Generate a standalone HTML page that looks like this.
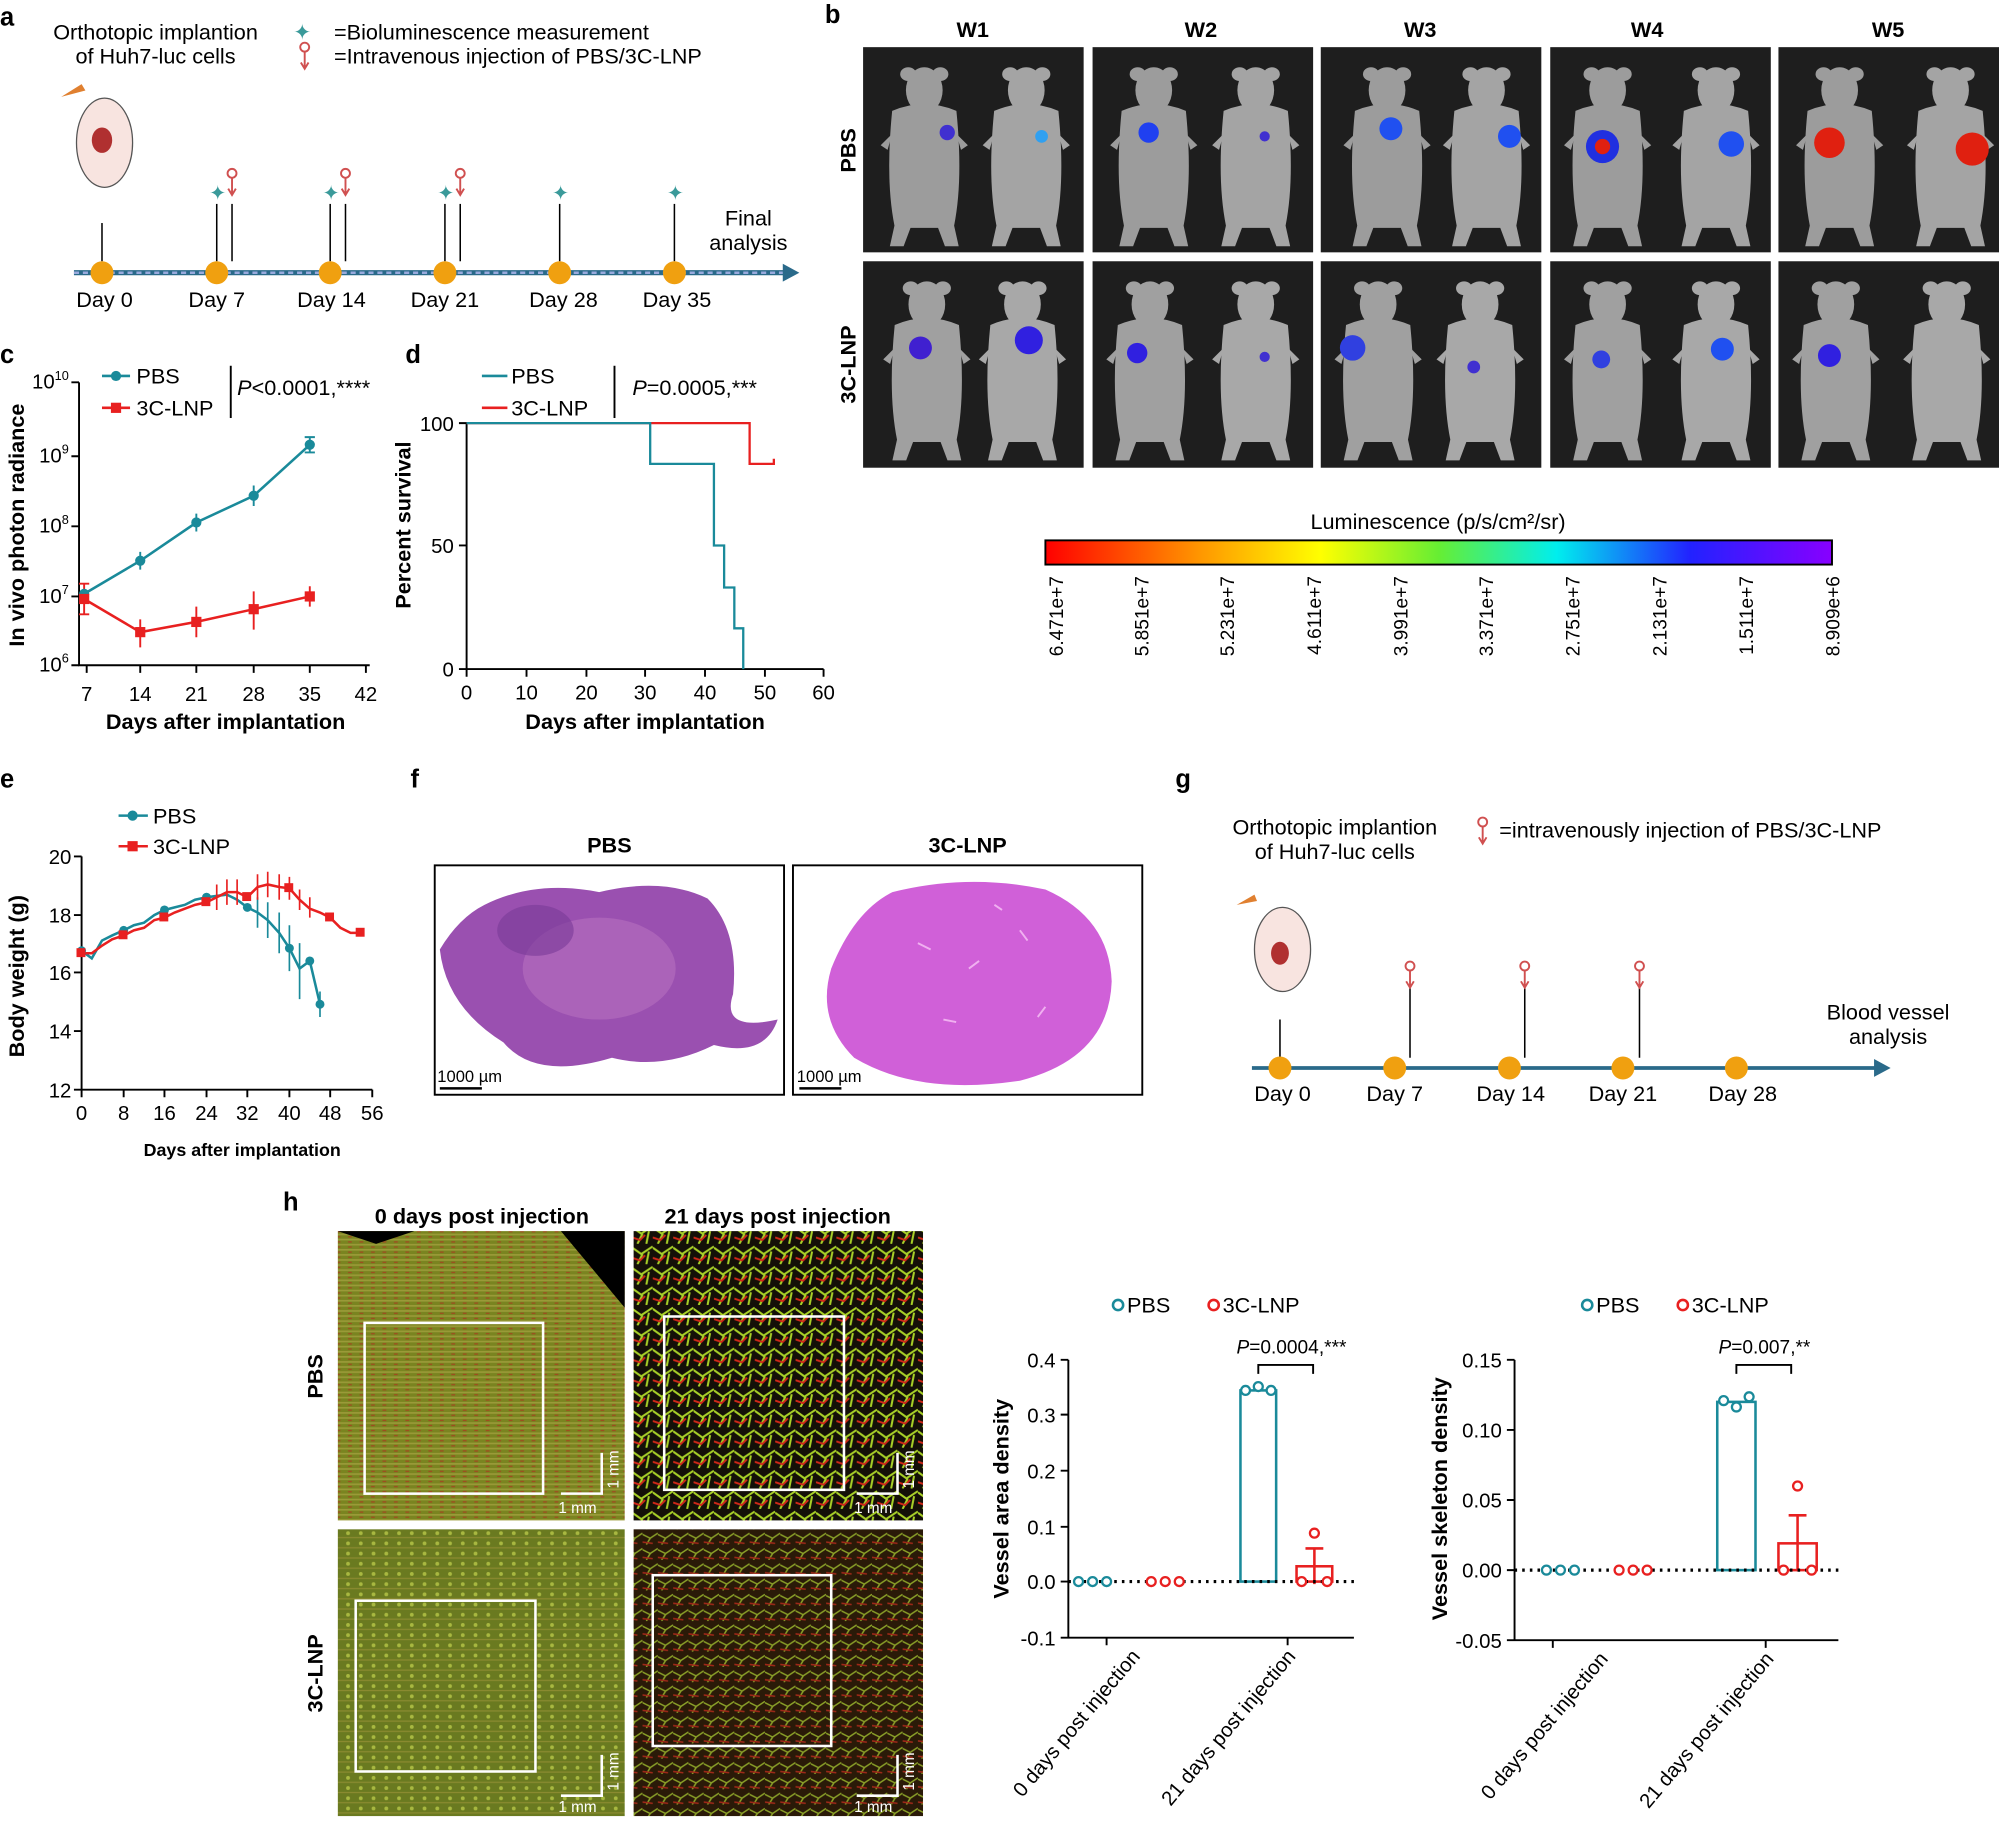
<!DOCTYPE html>
<html><head><meta charset="utf-8"><style>
html,body{margin:0;padding:0;background:#fff;}
svg{display:block;font-family:"Liberation Sans",Arial,sans-serif;}
</style></head><body>
<svg width="1999" height="1825" viewBox="0 0 1568 1432" preserveAspectRatio="none" xmlns="http://www.w3.org/2000/svg">
<defs>
<linearGradient id="lum" x1="0" x2="1"><stop offset="0" stop-color="#f00"/><stop offset="0.2" stop-color="#f90"/><stop offset="0.35" stop-color="#ff0"/><stop offset="0.5" stop-color="#6e3"/><stop offset="0.65" stop-color="#0ee"/><stop offset="0.82" stop-color="#22f"/><stop offset="1" stop-color="#80f"/></linearGradient>
<pattern id="stripes" width="9" height="4" patternUnits="userSpaceOnUse"><rect width="9" height="4" fill="#7a8420"/><rect y="0" width="9" height="1.3" fill="#9a9a38"/><rect x="3" y="2" width="3" height="1" fill="#a04a20"/></pattern>
<pattern id="vess" width="16" height="16" patternUnits="userSpaceOnUse"><rect width="16" height="16" fill="#141008"/><path d="M0 3 L7 8 L16 2 M4 16 L8 8 M11 16 L13 6" stroke="#a8d028" stroke-width="1.6" fill="none"/><path d="M0 11 L6 13 L10 9" stroke="#d02818" stroke-width="1.5" fill="none"/></pattern>
<pattern id="vess2" width="12" height="12" patternUnits="userSpaceOnUse"><rect width="12" height="12" fill="#2a1a08"/><path d="M0 4 L6 7 L12 3 M3 12 L6 7" stroke="#8aa028" stroke-width="1.2" fill="none"/><path d="M0 10 L8 11" stroke="#a02818" stroke-width="1.2"/></pattern>
<pattern id="dots" width="10" height="8" patternUnits="userSpaceOnUse"><rect width="10" height="8" fill="#6a7a20"/><circle cx="3" cy="3" r="1.5" fill="#a8b840"/><rect y="6" width="10" height="1" fill="#8a8a30"/></pattern>
<g id="mouse" transform="scale(0.9)"><ellipse cx="0" cy="-58" rx="16" ry="20"/><ellipse cx="-14" cy="-72" rx="7" ry="6"/><ellipse cx="14" cy="-72" rx="7" ry="6"/><path d="M-28 -40 Q-34 20 -26 60 L-30 78 L-18 78 L-12 62 L12 62 L18 78 L30 78 L26 60 Q34 20 28 -40 Q0 -52 -28 -40z"/><path d="M-28 -20 l-10 10 l6 4 z M28 -20 l10 10 l-6 4z"/></g>
<g id="pin"><circle cx="0" cy="0" r="3.5" fill="none" stroke="#d05050" stroke-width="1.5"/><path d="M0 3.5 V16 M-3 12 L0 17 L3 12" stroke="#d05050" stroke-width="1.5" fill="none"/></g>
</defs>
<g font-weight="bold" font-size="20">
<text x="0" y="20">a</text><text x="647" y="18">b</text><text x="0" y="285">c</text><text x="318" y="285">d</text><text x="0" y="618">e</text><text x="322" y="618">f</text><text x="922" y="618">g</text><text x="222" y="950">h</text></g>

<!-- panel a -->
<g font-size="17">
<text x="122" y="31" text-anchor="middle">Orthotopic implantion</text><text x="122" y="50" text-anchor="middle">of Huh7-luc cells</text>
<text x="230" y="31" fill="#3a9a9a">✦</text><text x="262" y="31">=Bioluminescence measurement</text>
<text x="262" y="50">=Intravenous injection of PBS/3C-LNP</text>
<text x="587" y="177" text-anchor="middle">Final</text><text x="587" y="196" text-anchor="middle">analysis</text>
</g>
<use href="#pin" x="239" y="37"/>
<path d="M48 76 l16 -10 l3 5 z" fill="#e08030"/><ellipse cx="82" cy="112" rx="22" ry="35" fill="#f8e4e0" stroke="#555"/><ellipse cx="80" cy="110" rx="8" ry="10" fill="#b03030"/>
<line x1="58" y1="214" x2="620" y2="214" stroke="#2a6a8a" stroke-width="4"/><line x1="58" y1="214" x2="620" y2="214" stroke="#9ad" stroke-width="2" stroke-dasharray="4 3"/>
<path d="M614 207 L627 214 L614 221 z" fill="#2a6a8a"/>
<g stroke="#000" stroke-width="1.2">
<line x1="80" y1="175" x2="80" y2="205"/><line x1="170" y1="160" x2="170" y2="205"/><line x1="182" y1="160" x2="182" y2="205"/><line x1="259" y1="160" x2="259" y2="205"/><line x1="271" y1="160" x2="271" y2="205"/><line x1="349" y1="160" x2="349" y2="205"/><line x1="361" y1="160" x2="361" y2="205"/><line x1="439" y1="160" x2="439" y2="205"/><line x1="529" y1="160" x2="529" y2="205"/></g>
<g fill="#3a9a9a" font-size="16"><text x="164" y="157">✦</text><text x="253" y="157">✦</text><text x="343" y="157">✦</text><text x="433" y="157">✦</text><text x="523" y="157">✦</text></g>
<use href="#pin" x="182" y="136"/><use href="#pin" x="271" y="136"/><use href="#pin" x="361" y="136"/>
<g fill="#f0a010"><circle cx="80" cy="214" r="9"/><circle cx="170" cy="214" r="9"/><circle cx="259" cy="214" r="9"/><circle cx="349" cy="214" r="9"/><circle cx="439" cy="214" r="9"/><circle cx="529" cy="214" r="9"/></g>
<g font-size="17" text-anchor="middle"><text x="82" y="241">Day 0</text><text x="170" y="241">Day 7</text><text x="260" y="241">Day 14</text><text x="349" y="241">Day 21</text><text x="442" y="241">Day 28</text><text x="531" y="241">Day 35</text></g>

<!-- panel b -->
<g font-size="17" font-weight="bold" text-anchor="middle"><text x="763" y="29">W1</text><text x="942" y="29">W2</text><text x="1114" y="29">W3</text><text x="1292" y="29">W4</text><text x="1481" y="29">W5</text>
<text transform="translate(671,118) rotate(-90)">PBS</text><text transform="translate(671,286) rotate(-90)">3C-LNP</text></g>
<g>
<g transform="translate(677,37)"><rect width="173" height="161" fill="#1e1e1e"/><use href="#mouse" x="48" y="86" fill="#9c9c9c"/><use href="#mouse" x="128" y="86" fill="#a4a4a4"/><circle cx="66" cy="67" r="6" fill="#4030d0"/><circle cx="140" cy="70" r="5" fill="#30a0f0"/></g>
<g transform="translate(857,37)"><rect width="173" height="161" fill="#1e1e1e"/><use href="#mouse" x="48" y="86" fill="#9c9c9c"/><use href="#mouse" x="128" y="86" fill="#a4a4a4"/><circle cx="44" cy="67" r="8" fill="#2040f0"/><circle cx="135" cy="70" r="4" fill="#4030d0"/></g>
<g transform="translate(1036,37)"><rect width="173" height="161" fill="#1e1e1e"/><use href="#mouse" x="52" y="86" fill="#9c9c9c"/><use href="#mouse" x="130" y="86" fill="#a4a4a4"/><circle cx="55" cy="64" r="9" fill="#2050f0"/><circle cx="148" cy="70" r="9" fill="#2050f0"/></g>
<g transform="translate(1216,37)"><rect width="173" height="161" fill="#1e1e1e"/><use href="#mouse" x="45" y="86" fill="#9c9c9c"/><use href="#mouse" x="130" y="86" fill="#a4a4a4"/><circle cx="41" cy="78" r="13" fill="#2030e0"/><circle cx="41" cy="78" r="6" fill="#e02010"/><circle cx="142" cy="76" r="10" fill="#2050f0"/></g>
<g transform="translate(1395,37)"><rect width="173" height="161" fill="#1e1e1e"/><use href="#mouse" x="48" y="86" fill="#9c9c9c"/><use href="#mouse" x="135" y="86" fill="#a4a4a4"/><circle cx="40" cy="75" r="12" fill="#e02010"/><circle cx="152" cy="80" r="13" fill="#e02010"/></g>
<g transform="translate(677,205)"><rect width="173" height="162" fill="#1e1e1e"/><use href="#mouse" x="50" y="86" fill="#a0a0a0"/><use href="#mouse" x="125" y="86" fill="#a8a8a8"/><circle cx="45" cy="68" r="9" fill="#4020d0"/><circle cx="130" cy="62" r="11" fill="#3020e0"/></g>
<g transform="translate(857,205)"><rect width="173" height="162" fill="#1e1e1e"/><use href="#mouse" x="45" y="86" fill="#a0a0a0"/><use href="#mouse" x="128" y="86" fill="#a8a8a8"/><circle cx="35" cy="72" r="8" fill="#3020e0"/><circle cx="135" cy="75" r="4" fill="#4030d0"/></g>
<g transform="translate(1036,205)"><rect width="173" height="162" fill="#1e1e1e"/><use href="#mouse" x="45" y="86" fill="#a0a0a0"/><use href="#mouse" x="125" y="86" fill="#a8a8a8"/><circle cx="25" cy="68" r="10" fill="#3040e0"/><circle cx="120" cy="83" r="5" fill="#4030d0"/></g>
<g transform="translate(1216,205)"><rect width="173" height="162" fill="#1e1e1e"/><use href="#mouse" x="45" y="86" fill="#a0a0a0"/><use href="#mouse" x="130" y="86" fill="#a8a8a8"/><circle cx="40" cy="77" r="7" fill="#3040e0"/><circle cx="135" cy="69" r="9" fill="#2050f0"/></g>
<g transform="translate(1395,205)"><rect width="173" height="162" fill="#1e1e1e"/><use href="#mouse" x="45" y="86" fill="#a0a0a0"/><use href="#mouse" x="132" y="86" fill="#a8a8a8"/><circle cx="40" cy="74" r="9" fill="#3020e0"/></g>
</g>
<text x="1128" y="415" font-size="17" text-anchor="middle">Luminescence (p/s/cm²/sr)</text>
<rect x="820" y="424" width="617" height="19" fill="url(#lum)" stroke="#000" stroke-width="1.5"/>
<g font-size="15" text-anchor="end">
<text transform="translate(834,452) rotate(-90)">6.471e+7</text><text transform="translate(901,452) rotate(-90)">5.851e+7</text><text transform="translate(968,452) rotate(-90)">5.231e+7</text><text transform="translate(1036,452) rotate(-90)">4.611e+7</text><text transform="translate(1104,452) rotate(-90)">3.991e+7</text><text transform="translate(1171,452) rotate(-90)">3.371e+7</text><text transform="translate(1239,452) rotate(-90)">2.751e+7</text><text transform="translate(1307,452) rotate(-90)">2.131e+7</text><text transform="translate(1375,452) rotate(-90)">1.511e+7</text><text transform="translate(1443,452) rotate(-90)">8.909e+6</text></g>

<!-- panel c -->
<g stroke="#000" stroke-width="1.5" fill="none"><path d="M62 300 V522 H290"/>
<path d="M56 300h6M56 358h6M56 413h6M56 468h6M56 522h6M68 522v6M110 522v6M154 522v6M199 522v6M243 522v6M287 522v6"/></g>
<g font-size="16" text-anchor="end"><text x="54" y="305">10<tspan font-size="10" dy="-7">10</tspan></text><text x="54" y="363">10<tspan font-size="10" dy="-7">9</tspan></text><text x="54" y="418">10<tspan font-size="10" dy="-7">8</tspan></text><text x="54" y="473">10<tspan font-size="10" dy="-7">7</tspan></text><text x="54" y="527">10<tspan font-size="10" dy="-7">6</tspan></text></g>
<g font-size="16" text-anchor="middle"><text x="68" y="550">7</text><text x="110" y="550">14</text><text x="154" y="550">21</text><text x="199" y="550">28</text><text x="243" y="550">35</text><text x="287" y="550">42</text></g>
<text x="177" y="572" font-size="17" font-weight="bold" text-anchor="middle">Days after implantation</text>
<text transform="translate(19,412) rotate(-90)" font-size="17" font-weight="bold" text-anchor="middle">In vivo photon radiance</text>
<polyline points="66,466 110,440 154,410 199,389 243,349" fill="none" stroke="#1a8a9a" stroke-width="2"/>
<polyline points="66,470 110,496 154,488 199,478 243,468" fill="none" stroke="#e82020" stroke-width="2"/>
<g stroke="#1a8a9a" stroke-width="1.5"><path d="M110 433v14M154 403v14M199 381v16M243 343v12M239 343h8M239 355h8"/></g>
<g stroke="#e82020" stroke-width="1.5"><path d="M66 458v24M110 486v22M154 476v24M199 464v30M243 460v16M62 482h8M62 458h8"/></g>
<g fill="#1a8a9a"><circle cx="66" cy="466" r="4"/><circle cx="110" cy="440" r="4"/><circle cx="154" cy="410" r="4"/><circle cx="199" cy="389" r="4"/><circle cx="243" cy="349" r="4"/></g>
<g fill="#e82020"><rect x="62" y="466" width="8" height="8"/><rect x="106" y="492" width="8" height="8"/><rect x="150" y="484" width="8" height="8"/><rect x="195" y="474" width="8" height="8"/><rect x="239" y="464" width="8" height="8"/></g>
<line x1="80" y1="295" x2="102" y2="295" stroke="#1a8a9a" stroke-width="2"/><circle cx="91" cy="295" r="4" fill="#1a8a9a"/>
<line x1="80" y1="320" x2="102" y2="320" stroke="#e82020" stroke-width="2"/><rect x="87" y="316" width="8" height="8" fill="#e82020"/>
<g font-size="17"><text x="107" y="301">PBS</text><text x="107" y="326">3C-LNP</text><text x="186" y="310"><tspan font-style="italic">P</tspan>&lt;0.0001,****</text></g>
<line x1="181" y1="287" x2="181" y2="328" stroke="#000" stroke-width="1.5"/>

<!-- panel d -->
<g stroke="#000" stroke-width="1.5" fill="none"><path d="M360 332h6M360 428h6M360 525h6M366 332V525H646M366 525v6M413 525v6M460 525v6M506 525v6M553 525v6M600 525v6M646 525v6"/></g>
<g font-size="16" text-anchor="end"><text x="356" y="338">100</text><text x="356" y="434">50</text><text x="356" y="531">0</text></g>
<g font-size="16" text-anchor="middle"><text x="366" y="549">0</text><text x="413" y="549">10</text><text x="460" y="549">20</text><text x="506" y="549">30</text><text x="553" y="549">40</text><text x="600" y="549">50</text><text x="646" y="549">60</text></g>
<text x="506" y="572" font-size="17" font-weight="bold" text-anchor="middle">Days after implantation</text>
<text transform="translate(322,412) rotate(-90)" font-size="17" font-weight="bold" text-anchor="middle">Percent survival</text>
<polyline points="366,332 588,332 588,364 607,364 607,360" fill="none" stroke="#e82020" stroke-width="1.8"/>
<polyline points="366,332 510,332 510,364 560,364 560,428 568,428 568,461 576,461 576,493 583,493 583,525" fill="none" stroke="#1a8a9a" stroke-width="1.8"/>
<line x1="378" y1="295" x2="398" y2="295" stroke="#1a8a9a" stroke-width="2"/><line x1="378" y1="320" x2="398" y2="320" stroke="#e82020" stroke-width="2"/>
<g font-size="17"><text x="401" y="301">PBS</text><text x="401" y="326">3C-LNP</text><text x="496" y="310"><tspan font-style="italic">P</tspan>=0.0005,***</text></g>
<line x1="482" y1="287" x2="482" y2="328" stroke="#000" stroke-width="1.5"/>

<!-- panel e -->
<g stroke="#000" stroke-width="1.5" fill="none"><path d="M58 672h6M58 718h6M58 763h6M58 809h6M58 855h6M64 672V855H292"/>
<path d="M64 855v6M97 855v6M129 855v6M162 855v6M194 855v6M227 855v6M259 855v6M292 855v6"/></g>
<g font-size="16" text-anchor="end"><text x="56" y="678">20</text><text x="56" y="724">18</text><text x="56" y="769">16</text><text x="56" y="815">14</text><text x="56" y="861">12</text></g>
<g font-size="16" text-anchor="middle"><text x="64" y="879">0</text><text x="97" y="879">8</text><text x="129" y="879">16</text><text x="162" y="879">24</text><text x="194" y="879">32</text><text x="227" y="879">40</text><text x="259" y="879">48</text><text x="292" y="879">56</text></g>
<text x="190" y="907" font-size="14" font-weight="bold" text-anchor="middle">Days after implantation</text>
<text transform="translate(19,766) rotate(-90)" font-size="17" font-weight="bold" text-anchor="middle">Body weight (g)</text>
<polyline points="64,746 72,752 80,738 88,734 97,730 105,726 113,724 121,718 129,714 137,712 145,710 153,706 162,704 170,703 178,702 186,706 194,712 202,716 210,722 219,732 227,744 235,760 243,754 251,788" fill="none" stroke="#1a8a9a" stroke-width="2"/>
<polyline points="64,748 72,748 80,742 88,737 97,734 105,730 113,728 121,722 129,720 137,716 145,713 153,710 162,708 170,704 178,700 186,700 194,704 202,696 210,694 219,696 227,697 235,706 243,713 251,716 259,720 267,728 275,732 283,732" fill="none" stroke="#e82020" stroke-width="2"/>
<g stroke="#1a8a9a" stroke-width="1.3"><path d="M202 704v24M210 708v28M219 716v32M227 726v36M235 740v44M251 778v20"/></g>
<g stroke="#e82020" stroke-width="1.3"><path d="M170 694v20M178 690v20M186 690v20M202 686v20M210 684v20M219 686v20M227 688v18M235 698v16M243 704v16"/></g>
<g fill="#1a8a9a"><circle cx="64" cy="746" r="3.5"/><circle cx="97" cy="730" r="3.5"/><circle cx="129" cy="714" r="3.5"/><circle cx="162" cy="704" r="3.5"/><circle cx="194" cy="712" r="3.5"/><circle cx="227" cy="744" r="3.5"/><circle cx="243" cy="754" r="3.5"/><circle cx="251" cy="788" r="3.5"/></g>
<g fill="#e82020"><rect x="60" y="744" width="7" height="7"/><rect x="93" y="730" width="7" height="7"/><rect x="125" y="716" width="7" height="7"/><rect x="158" y="704" width="7" height="7"/><rect x="190" y="700" width="7" height="7"/><rect x="223" y="693" width="7" height="7"/><rect x="255" y="716" width="7" height="7"/><rect x="279" y="728" width="7" height="7"/></g>
<line x1="93" y1="640" x2="116" y2="640" stroke="#1a8a9a" stroke-width="2"/><circle cx="104" cy="640" r="4" fill="#1a8a9a"/>
<line x1="93" y1="664" x2="116" y2="664" stroke="#e82020" stroke-width="2"/><rect x="100" y="660" width="8" height="8" fill="#e82020"/>
<g font-size="17"><text x="120" y="646">PBS</text><text x="120" y="670">3C-LNP</text></g>

<!-- panel f -->
<g font-size="17" font-weight="bold" text-anchor="middle"><text x="478" y="669">PBS</text><text x="759" y="669">3C-LNP</text></g>
<rect x="341" y="679" width="274" height="180" fill="#fff" stroke="#000" stroke-width="1.5"/>
<rect x="622" y="679" width="274" height="180" fill="#fff" stroke="#000" stroke-width="1.5"/>
<path d="M380 710 Q420 690 470 700 Q520 688 555 705 Q580 730 575 780 Q565 810 610 800 Q600 830 560 820 Q520 840 480 830 Q420 848 395 818 Q350 790 345 745 Q360 720 380 710z" fill="#9a50b0"/>
<ellipse cx="470" cy="760" rx="60" ry="40" fill="#b870c0" opacity="0.6"/><ellipse cx="420" cy="730" rx="30" ry="20" fill="#7a3a98" opacity="0.6"/>
<path d="M700 700 Q760 685 820 698 Q870 720 872 770 Q870 830 800 848 Q720 860 670 830 Q640 800 652 760 Q670 715 700 700z" fill="#d060d8"/>
<g stroke="#f0b0f0" stroke-width="1.5" fill="none"><path d="M720 740l10 5M760 760l8-6M800 730l6 8M740 800l10 2M820 790l-6 8M780 710l6 4"/></g>
<g font-size="13"><text x="343" y="849">1000 µm</text><text x="625" y="849">1000 µm</text></g>
<path d="M345 854h33M627 854h33" stroke="#000" stroke-width="2"/>

<!-- panel g -->
<g font-size="17"><text x="1047" y="655" text-anchor="middle">Orthotopic implantion</text><text x="1047" y="674" text-anchor="middle">of Huh7-luc cells</text>
<text x="1176" y="657">=intravenously injection of PBS/3C-LNP</text>
<text x="1481" y="800" text-anchor="middle">Blood vessel</text><text x="1481" y="819" text-anchor="middle">analysis</text></g>
<use href="#pin" x="1163" y="645"/>
<path d="M970 710 l14 -8 l2 5 z" fill="#e08030"/><ellipse cx="1006" cy="745" rx="22" ry="33" fill="#f8e4e0" stroke="#555"/><ellipse cx="1004" cy="748" rx="7" ry="9" fill="#b03030"/>
<line x1="982" y1="838" x2="1474" y2="838" stroke="#2a6a8a" stroke-width="3"/><path d="M1470 831 L1483 838 L1470 845 z" fill="#2a6a8a"/>
<g stroke="#000" stroke-width="1.2"><path d="M1004 800v30M1106 775v55M1196 775v55M1286 775v55"/></g>
<use href="#pin" x="1106" y="758"/><use href="#pin" x="1196" y="758"/><use href="#pin" x="1286" y="758"/>
<g fill="#f0a010"><circle cx="1004" cy="838" r="9"/><circle cx="1094" cy="838" r="9"/><circle cx="1184" cy="838" r="9"/><circle cx="1273" cy="838" r="9"/><circle cx="1362" cy="838" r="9"/></g>
<g font-size="17" text-anchor="middle"><text x="1006" y="864">Day 0</text><text x="1094" y="864">Day 7</text><text x="1185" y="864">Day 14</text><text x="1273" y="864">Day 21</text><text x="1367" y="864">Day 28</text></g>

<!-- panel h images -->
<g font-size="17" font-weight="bold" text-anchor="middle"><text x="378" y="960">0 days post injection</text><text x="610" y="960">21 days post injection</text>
<text transform="translate(253,1080) rotate(-90)">PBS</text><text transform="translate(253,1313) rotate(-90)">3C-LNP</text></g>
<rect x="265" y="966" width="225" height="227" fill="url(#stripes)"/>
<path d="M265 966 h60 l-30 10 z M440 966 h50 v60 z" fill="#000"/>
<rect x="497" y="966" width="227" height="227" fill="url(#vess)"/>
<rect x="265" y="1200" width="225" height="225" fill="url(#dots)"/>
<rect x="497" y="1200" width="227" height="225" fill="url(#vess2)"/>
<g fill="none" stroke="#fff" stroke-width="2"><rect x="286" y="1038" width="140" height="134"/><rect x="521" y="1033" width="141" height="136"/><rect x="279" y="1256" width="141" height="134"/><rect x="512" y="1236" width="140" height="134"/>
<path d="M440 1172h32v-32M672 1172h32v-32M440 1409h32v-32M672 1409h32v-32"/></g>
<g fill="#fff" font-size="12"><text x="438" y="1187">1 mm</text><text x="670" y="1187">1 mm</text><text x="438" y="1422">1 mm</text><text x="670" y="1422">1 mm</text>
<text transform="translate(485,1168) rotate(-90)">1 mm</text><text transform="translate(717,1168) rotate(-90)">1 mm</text><text transform="translate(485,1405) rotate(-90)">1 mm</text><text transform="translate(717,1405) rotate(-90)">1 mm</text></g>

<!-- bar chart 1 -->
<g font-size="17"><circle cx="877" cy="1024" r="4" fill="none" stroke="#1a8a9a" stroke-width="2"/><text x="884" y="1030">PBS</text><circle cx="952" cy="1024" r="4" fill="none" stroke="#e82020" stroke-width="2"/><text x="959" y="1030">3C-LNP</text></g>
<g stroke="#000" stroke-width="1.5" fill="none"><path d="M832 1067h6M832 1110h6M832 1154h6M832 1198h6M832 1241h6M832 1285h6M838 1067V1285H1062M868 1285v6M1010 1285v6"/></g>
<g font-size="16" text-anchor="end"><text x="828" y="1073">0.4</text><text x="828" y="1116">0.3</text><text x="828" y="1160">0.2</text><text x="828" y="1204">0.1</text><text x="828" y="1247">0.0</text><text x="828" y="1291">-0.1</text></g>
<text transform="translate(791,1176) rotate(-90)" font-size="17" font-weight="bold" text-anchor="middle">Vessel area density</text>
<rect x="973" y="1091" width="28" height="150" fill="none" stroke="#1a8a9a" stroke-width="2"/>
<rect x="1017" y="1229" width="28" height="12" fill="none" stroke="#e82020" stroke-width="2"/>
<path d="M1031 1215v28M1024 1215h14" stroke="#e82020" stroke-width="2"/>
<line x1="838" y1="1241" x2="1062" y2="1241" stroke="#000" stroke-width="2.5" stroke-dasharray="2 4"/>
<g fill="#fff" stroke-width="1.8"><g stroke="#1a8a9a"><circle cx="846" cy="1241" r="3.5"/><circle cx="857" cy="1241" r="3.5"/><circle cx="868" cy="1241" r="3.5"/><circle cx="977" cy="1091" r="3.5"/><circle cx="987" cy="1088" r="3.5"/><circle cx="997" cy="1091" r="3.5"/></g>
<g stroke="#e82020"><circle cx="903" cy="1241" r="3.5"/><circle cx="914" cy="1241" r="3.5"/><circle cx="925" cy="1241" r="3.5"/><circle cx="1021" cy="1241" r="3.5"/><circle cx="1031" cy="1203" r="3.5"/><circle cx="1041" cy="1241" r="3.5"/></g></g>
<path d="M987 1078v-7h43v7" fill="none" stroke="#000" stroke-width="1.5"/>
<text x="1013" y="1062" font-size="15" text-anchor="middle"><tspan font-style="italic">P</tspan>=0.0004,***</text>
<g font-size="16" text-anchor="end"><text transform="translate(895,1300) rotate(-50)">0 days post injection</text><text transform="translate(1017,1300) rotate(-50)">21 days post injection</text></g>

<!-- bar chart 2 -->
<g font-size="17"><circle cx="1245" cy="1024" r="4" fill="none" stroke="#1a8a9a" stroke-width="2"/><text x="1252" y="1030">PBS</text><circle cx="1320" cy="1024" r="4" fill="none" stroke="#e82020" stroke-width="2"/><text x="1327" y="1030">3C-LNP</text></g>
<g stroke="#000" stroke-width="1.5" fill="none"><path d="M1182 1067h6M1182 1122h6M1182 1177h6M1182 1232h6M1182 1287h6M1188 1067V1287H1442M1218 1287v6M1385 1287v6"/></g>
<g font-size="16" text-anchor="end"><text x="1178" y="1073">0.15</text><text x="1178" y="1128">0.10</text><text x="1178" y="1183">0.05</text><text x="1178" y="1238">0.00</text><text x="1178" y="1293">-0.05</text></g>
<text transform="translate(1135,1176) rotate(-90)" font-size="17" font-weight="bold" text-anchor="middle">Vessel skeleton density</text>
<rect x="1347" y="1100" width="30" height="132" fill="none" stroke="#1a8a9a" stroke-width="2"/>
<rect x="1395" y="1211" width="30" height="21" fill="none" stroke="#e82020" stroke-width="2"/>
<path d="M1410 1189v44M1403 1189h14" stroke="#e82020" stroke-width="2"/>
<line x1="1188" y1="1232" x2="1442" y2="1232" stroke="#000" stroke-width="2.5" stroke-dasharray="2 4"/>
<g fill="#fff" stroke-width="1.8"><g stroke="#1a8a9a"><circle cx="1213" cy="1232" r="3.5"/><circle cx="1224" cy="1232" r="3.5"/><circle cx="1235" cy="1232" r="3.5"/><circle cx="1352" cy="1099" r="3.5"/><circle cx="1362" cy="1104" r="3.5"/><circle cx="1372" cy="1096" r="3.5"/></g>
<g stroke="#e82020"><circle cx="1270" cy="1232" r="3.5"/><circle cx="1281" cy="1232" r="3.5"/><circle cx="1292" cy="1232" r="3.5"/><circle cx="1399" cy="1232" r="3.5"/><circle cx="1410" cy="1166" r="3.5"/><circle cx="1421" cy="1232" r="3.5"/></g></g>
<path d="M1362 1078v-7h43v7" fill="none" stroke="#000" stroke-width="1.5"/>
<text x="1384" y="1062" font-size="15" text-anchor="middle"><tspan font-style="italic">P</tspan>=0.007,**</text>
<g font-size="16" text-anchor="end"><text transform="translate(1262,1302) rotate(-50)">0 days post injection</text><text transform="translate(1392,1302) rotate(-50)">21 days post injection</text></g>
</svg>
</body></html>
